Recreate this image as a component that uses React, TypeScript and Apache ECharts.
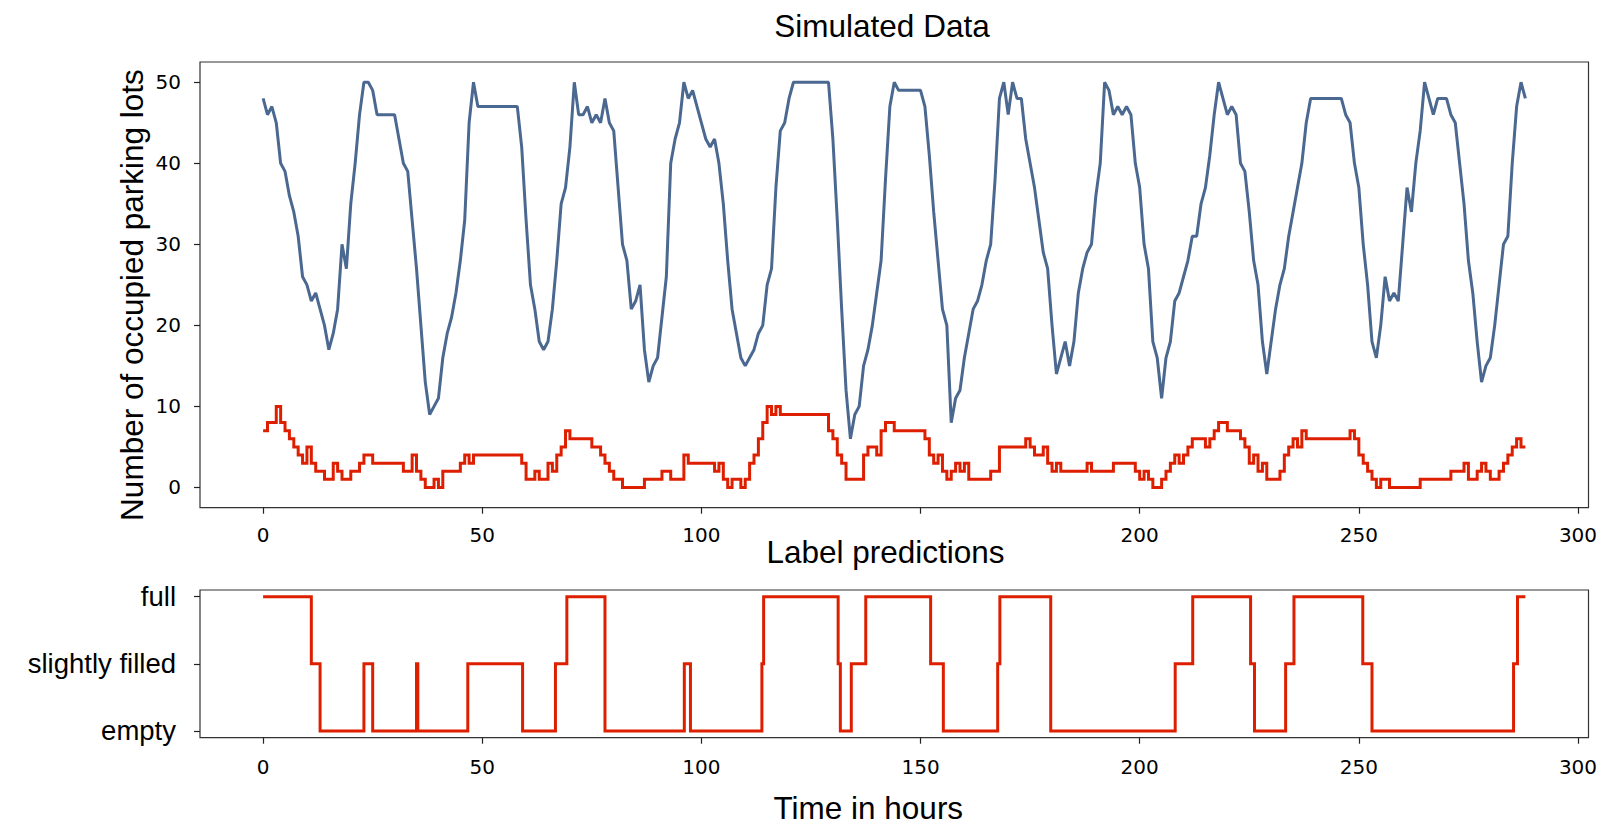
import React, { useEffect, useRef } from "react";
import * as echarts from "echarts";

// Occupied parking lots, sampled every hour (h = 0 .. 288)
const BLUE_VALUES = [
  48, 46, 47, 45, 40, 39, 36, 34, 31, 26,
  25, 23, 24, 22, 20, 17, 19, 22, 30, 27,
  35, 40, 46, 50, 50, 49, 46, 46, 46, 46,
  46, 43, 40, 39, 33, 27, 20, 13, 9, 10,
  11, 16, 19, 21, 24, 28, 33, 45, 50, 47,
  47, 47, 47, 47, 47, 47, 47, 47, 47, 42,
  33, 25, 22, 18, 17, 18, 22, 28, 35, 37,
  42, 50, 46, 46, 47, 45, 46, 45, 48, 45,
  44, 37, 30, 28, 22, 23, 25, 17, 13, 15,
  16, 21, 26, 40, 43, 45, 50, 48, 49, 47,
  45, 43, 42, 43, 40, 35, 28, 22, 19, 16,
  15, 16, 17, 19, 20, 25, 27, 37, 44, 45,
  48, 50, 50, 50, 50, 50, 50, 50, 50, 50,
  43, 33, 22, 12, 6, 9, 10, 15, 17, 20,
  24, 28, 38, 47, 50, 49, 49, 49, 49, 49,
  49, 47, 41, 34, 28, 22, 20, 8, 11, 12,
  16, 19, 22, 23, 25, 28, 30, 38, 48, 50,
  46, 50, 48, 48, 43, 40, 37, 33, 29, 27,
  20, 14, 16, 18, 15, 18, 24, 27, 29, 30,
  36, 40, 50, 49, 46, 47, 46, 47, 46, 40,
  37, 30, 27, 18, 16, 11, 16, 18, 23, 24,
  26, 28, 31, 31, 35, 37, 41, 46, 50, 48,
  46, 47, 46, 40, 39, 34, 28, 25, 18, 14,
  18, 22, 25, 27, 31, 34, 37, 40, 45, 48,
  48, 48, 48, 48, 48, 48, 48, 46, 45, 40,
  37, 30, 25, 18, 16, 20, 26, 23, 24, 23,
  30, 37, 34, 40, 44, 50, 48, 46, 48, 48,
  48, 46, 45, 40, 35, 28, 24, 18, 13, 15,
  16, 20, 25, 30, 31, 40, 47, 50, 48,
];

const RED_VALUES = [
  7, 8, 8, 10, 8, 7, 6, 5, 4, 3,
  5, 3, 2, 2, 1, 1, 3, 2, 1, 1,
  2, 2, 3, 4, 4, 3, 3, 3, 3, 3,
  3, 3, 2, 2, 4, 2, 1, 0, 0, 1,
  0, 2, 2, 2, 2, 3, 4, 3, 4, 4,
  4, 4, 4, 4, 4, 4, 4, 4, 4, 3,
  1, 1, 2, 1, 1, 3, 2, 4, 5, 7,
  6, 6, 6, 6, 6, 5, 5, 4, 3, 2,
  1, 1, 0, 0, 0, 0, 0, 1, 1, 1,
  1, 2, 2, 1, 1, 1, 4, 3, 3, 3,
  3, 3, 3, 2, 3, 1, 0, 1, 1, 0,
  1, 3, 4, 6, 8, 10, 9, 10, 9, 9,
  9, 9, 9, 9, 9, 9, 9, 9, 9, 7,
  6, 4, 3, 1, 1, 1, 1, 4, 5, 5,
  4, 7, 8, 8, 7, 7, 7, 7, 7, 7,
  7, 6, 4, 3, 4, 2, 1, 2, 3, 2,
  3, 1, 1, 1, 1, 1, 2, 2, 5, 5,
  5, 5, 5, 5, 6, 5, 4, 4, 5, 3,
  2, 3, 2, 2, 2, 2, 2, 2, 3, 2,
  2, 2, 2, 2, 3, 3, 3, 3, 3, 2,
  1, 2, 1, 0, 0, 1, 2, 3, 4, 3,
  4, 5, 6, 6, 6, 5, 6, 7, 8, 8,
  7, 7, 7, 6, 5, 3, 4, 2, 3, 1,
  1, 1, 2, 4, 5, 6, 5, 7, 6, 6,
  6, 6, 6, 6, 6, 6, 6, 6, 7, 6,
  4, 3, 2, 1, 0, 1, 1, 0, 0, 0,
  0, 0, 0, 0, 1, 1, 1, 1, 1, 1,
  1, 2, 2, 2, 3, 1, 1, 2, 3, 2,
  1, 1, 2, 3, 4, 5, 6, 5, 5,
];

const HOURS = BLUE_VALUES.map((_, i) => i);

// Label predictions: change times (hours) and level (0 empty, 1 slightly filled, 2 full)
const LABEL_TIMES = [
  0, 11, 13, 23, 25, 35, 35.3, 46.7, 59.2, 66.7, 69.3, 78, 96.1, 97.5,
  113.8, 114.2, 131.2, 131.7, 134.2, 137.5, 152.3, 155.2, 167.6, 168.1,
  179.7, 208.1, 212.1, 225.3, 226.2, 233.3, 235.2, 250.9, 253, 285.3, 286.2, 288,
];
const LABEL_LEVELS = [
  2, 1, 0, 1, 0, 1, 0, 1, 0, 1, 2, 0, 1, 0,
  1, 2, 1, 0, 1, 2, 1, 0, 1, 2,
  0, 1, 2, 1, 0, 1, 2, 1, 0, 1, 2, 2,
];
const LABEL_NAMES = ["empty", "slightly filled", "full"];

const X_TICKS = [0, 50, 100, 150, 200, 250, 300];
// the "150" label of the upper axis is hidden behind the lower title in the reference
const X_LABELS_TOP = [0, 50, 100, 200, 250, 300];
const Y_TICKS = [0, 10, 20, 30, 40, 50];
const LABEL_TICKS = [0, 1, 2];

const TITLE_TOP = "Simulated Data";
const TITLE_BOTTOM = "Label predictions";
const Y_NAME = "Number of occupied parking lots";
const X_NAME = "Time in hours";

const BLUE = "#4b6890";
const RED = "#dd1f00";
const FRAME = "#333333";
const SANS = '"Liberation Sans", Arial, sans-serif';
const TICK_FONT = '"DejaVu Sans", sans-serif';

export default function App() {
  const ref = useRef<HTMLDivElement>(null);

  useEffect(() => {
    if (!ref.current) return;
    const chart = echarts.init(ref.current, undefined, { renderer: "svg" });

    const tickStyle = { show: true, length: 6, inside: false, lineStyle: { color: "#222", width: 1.2 } };
    const xAxisBase = (grid: number, margin: number, labels: number[]) => ({
      type: "value",
      gridIndex: grid,
      min: -14.4,
      max: 302.4,
      axisLine: { show: false, onZero: false },
      splitLine: { show: false },
      axisTick: { ...tickStyle, customValues: X_TICKS },
      axisLabel: {
        customValues: labels,
        fontFamily: TICK_FONT,
        fontSize: 20,
        color: "#000",
        margin,
      },
    });

    const gridBase = {
      show: true,
      borderColor: FRAME,
      borderWidth: 1.2,
      backgroundColor: "transparent",
      containLabel: false,
      outerBoundsMode: "none",
    };

    const textStyle = (text: string) => ({
      text,
      fontFamily: SANS,
      fontSize: 31.5,
      fill: "#000",
      textAlign: "center",
      textVerticalAlign: "middle",
      align: "center",
      verticalAlign: "middle",
    });

    const option: any = {
      animation: false,
      backgroundColor: "#ffffff",
      grid: [
        { ...gridBase, left: 200, top: 62, width: 1388.5, height: 445.7 },
        { ...gridBase, left: 200, top: 590, width: 1388.5, height: 147.7 },
      ],
      xAxis: [xAxisBase(0, 17, X_LABELS_TOP), xAxisBase(1, 19, X_TICKS)],
      yAxis: [
        {
          type: "value",
          gridIndex: 0,
          min: -2.5,
          max: 52.5,
          axisLine: { show: false, onZero: false },
          splitLine: { show: false },
          axisTick: { ...tickStyle, customValues: Y_TICKS },
          axisLabel: {
            customValues: Y_TICKS,
            fontFamily: TICK_FONT,
            fontSize: 20,
            color: "#000",
            margin: 19,
          },
        },
        {
          type: "value",
          gridIndex: 1,
          min: -0.1,
          max: 2.1,
          axisLine: { show: false, onZero: false },
          splitLine: { show: false },
          axisTick: { ...tickStyle, customValues: LABEL_TICKS },
          axisLabel: {
            customValues: LABEL_TICKS,
            formatter: (v: number) => LABEL_NAMES[Math.round(v)] ?? "",
            fontFamily: SANS,
            fontSize: 27.5,
            color: "#000",
            margin: 24,
          },
        },
      ],
      series: [
        {
          type: "line",
          xAxisIndex: 0,
          yAxisIndex: 0,
          data: HOURS.map((h, i) => [h, BLUE_VALUES[i]]),
          showSymbol: false,
          symbol: "none",
          silent: true,
          lineStyle: { color: BLUE, width: 3 },
          itemStyle: { color: BLUE },
        },
        {
          type: "line",
          xAxisIndex: 0,
          yAxisIndex: 0,
          data: HOURS.map((h, i) => [h, RED_VALUES[i]]),
          step: "end",
          showSymbol: false,
          symbol: "none",
          silent: true,
          lineStyle: { color: RED, width: 3, join: "miter" },
          itemStyle: { color: RED },
        },
        {
          type: "line",
          xAxisIndex: 1,
          yAxisIndex: 1,
          data: LABEL_TIMES.map((t, i) => [t, LABEL_LEVELS[i]]),
          step: "end",
          showSymbol: false,
          symbol: "none",
          silent: true,
          lineStyle: { color: RED, width: 3, join: "miter" },
          itemStyle: { color: RED },
        },
      ],
      graphic: [
        { type: "text", x: 882, y: 26, silent: true, style: textStyle(TITLE_TOP) },
        { type: "text", x: 885.5, y: 552.4, silent: true, style: textStyle(TITLE_BOTTOM) },
        { type: "text", x: 868.3, y: 807.6, silent: true, style: textStyle(X_NAME) },
        { type: "text", x: 132, y: 295, rotation: Math.PI / 2, silent: true, style: textStyle(Y_NAME) },
      ],
    };

    chart.setOption(option);
    return () => {
      chart.dispose();
    };
  }, []);

  return (
    <div
      ref={ref}
      style={{
        position: "fixed",
        left: 0,
        top: 0,
        width: 1614,
        height: 837,
        background: "#fff",
      }}
    />
  );
}
